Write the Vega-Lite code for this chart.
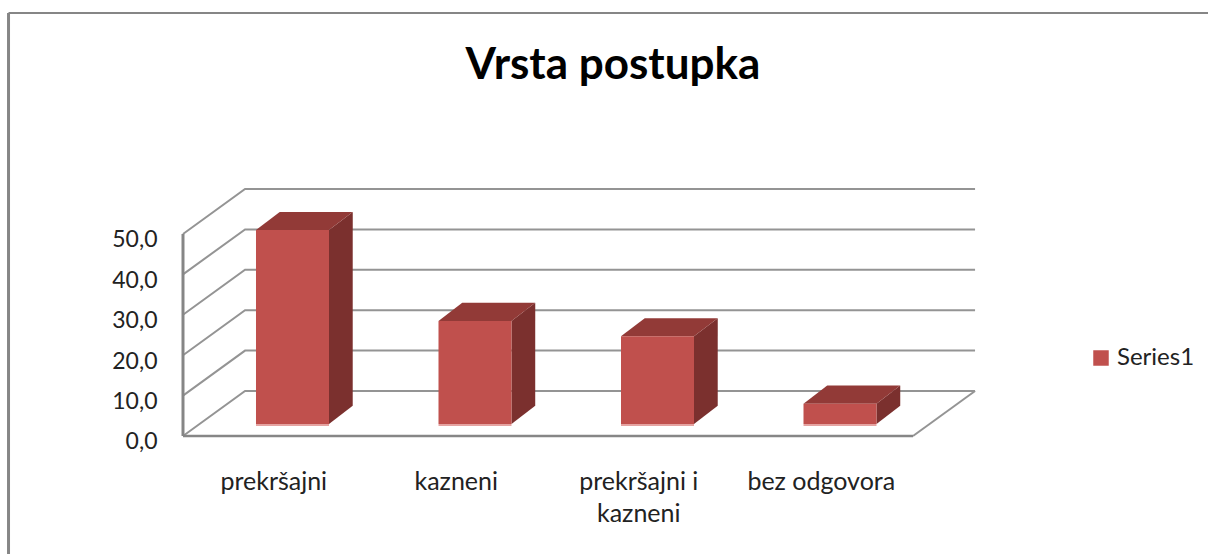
{"$schema":"https://vega.github.io/schema/vega-lite/v6.json","width":1208,"height":554,"padding":0,"autosize":{"type":"none"},"background":"white","config":{"view":{"stroke":null}},
"title":{"text":"Vrsta postupka","font":"Lato","fontSize":44,"fontWeight":"bold","color":"black","anchor":"middle","dx":9,"offset":-88},
"datasets":{
"bars":[{"category":"prekršajni","series":"Series1","x":0.4,"x2":0.8,"y":48},{"category":"kazneni","series":"Series1","x":1.4,"x2":1.8,"y":25.5},{"category":"prekršajni i kazneni","series":"Series1","x":2.4,"x2":2.8,"y":21.7},{"category":"bez odgovora","series":"Series1","x":3.4,"x2":3.8,"y":5}],
"sides":[{"bar":1,"x":0.8,"y":48,"y2":0},{"bar":1,"x":0.93,"y":52.5,"y2":4.5},{"bar":2,"x":1.8,"y":25.5,"y2":0},{"bar":2,"x":1.93,"y":30,"y2":4.5},{"bar":3,"x":2.8,"y":21.7,"y2":0},{"bar":3,"x":2.93,"y":26.2,"y2":4.5},{"bar":4,"x":3.8,"y":5,"y2":0},{"bar":4,"x":3.93,"y":9.5,"y2":4.5}],
"tops":[{"bar":1,"x":0.4,"y":48,"y2":48},{"bar":1,"x":0.53,"y":52.5,"y2":48},{"bar":1,"x":0.8,"y":52.5,"y2":48},{"bar":1,"x":0.93,"y":52.5,"y2":52.5},{"bar":2,"x":1.4,"y":25.5,"y2":25.5},{"bar":2,"x":1.53,"y":30,"y2":25.5},{"bar":2,"x":1.8,"y":30,"y2":25.5},{"bar":2,"x":1.93,"y":30,"y2":30},{"bar":3,"x":2.4,"y":21.7,"y2":21.7},{"bar":3,"x":2.53,"y":26.2,"y2":21.7},{"bar":3,"x":2.8,"y":26.2,"y2":21.7},{"bar":3,"x":2.93,"y":26.2,"y2":26.2},{"bar":4,"x":3.4,"y":5,"y2":5},{"bar":4,"x":3.53,"y":9.5,"y2":5},{"bar":4,"x":3.8,"y":9.5,"y2":5},{"bar":4,"x":3.93,"y":9.5,"y2":9.5}],
"grid":[{"id":0,"x":0,"y":0},{"id":0,"x":0.34,"y":11.14},{"id":0,"x":4.34,"y":11.14},{"id":10,"x":0,"y":10},{"id":10,"x":0.34,"y":21.14},{"id":10,"x":4.34,"y":21.14},{"id":20,"x":0,"y":20},{"id":20,"x":0.34,"y":31.14},{"id":20,"x":4.34,"y":31.14},{"id":30,"x":0,"y":30},{"id":30,"x":0.34,"y":41.14},{"id":30,"x":4.34,"y":41.14},{"id":40,"x":0,"y":40},{"id":40,"x":0.34,"y":51.14},{"id":40,"x":4.34,"y":51.14},{"id":50,"x":0,"y":50},{"id":50,"x":0.34,"y":61.14},{"id":50,"x":4.34,"y":61.14},{"id":60,"x":4,"y":0},{"id":60,"x":4.34,"y":11.14}],
"floor":[{"x":0,"y":0},{"x":4,"y":0}],
"wall":[{"x":0,"y":0},{"x":0,"y":50}],
"frameLeft":[{"x":-0.956,"y":-29.2},{"x":-0.956,"y":104.7}],
"frameTop":[{"x":-0.956,"y":104.7},{"x":5.6164,"y":104.7}]
},
"encoding":{
"x":{"field":"x","type":"quantitative","scale":{"domain":[-1.0027,5.6164],"nice":false,"zero":false},"axis":{"title":null,"grid":false,"domain":false,"ticks":false,"values":[0.5,1.5,2.5,3.5],"offset":-85,"labelPadding":0,"labelFont":"Lato","labelFontSize":25,"labelColor":"#222","labelLineHeight":32,"labelBaseline":"top","labelOffset":-1,"labelExpr":"datum.value==0.5?'prekršajni':datum.value==1.5?'kazneni':datum.value==2.5?['prekršajni i','kazneni']:'bez odgovora'"}},
"y":{"field":"y","type":"quantitative","scale":{"domain":[-29.21,107.92],"nice":false,"zero":false},"axis":{"title":null,"grid":false,"domain":false,"ticks":false,"values":[0,10,20,30,40,50],"offset":-157,"labelPadding":0,"labelFont":"Lato","labelFontSize":23,"labelColor":"#222","labelOffset":6,"labelExpr":"replace(format(datum.value,'.1f'),'.',',')"}}
},
"layer":[
{"data":{"name":"frameLeft"},"mark":{"type":"line","color":"#868686","strokeWidth":3}},
{"data":{"name":"frameTop"},"mark":{"type":"line","color":"#868686","strokeWidth":2}},
{"data":{"name":"grid"},"mark":{"type":"line","color":"#949494","strokeWidth":2},"encoding":{"detail":{"field":"id"}}},
{"data":{"name":"floor"},"mark":{"type":"line","color":"#868686","strokeWidth":2.5}},
{"data":{"name":"wall"},"mark":{"type":"line","color":"#868686","strokeWidth":3}},
{"data":{"name":"sides"},"mark":{"type":"area","color":"#7B302E","yOffset":-12,"y2Offset":-12},"encoding":{"y2":{"field":"y2"},"detail":{"field":"bar"}}},
{"data":{"name":"tops"},"mark":{"type":"area","color":"#923A37","yOffset":-12,"y2Offset":-12},"encoding":{"y2":{"field":"y2"},"detail":{"field":"bar"}}},
{"data":{"name":"bars"},"mark":{"type":"bar","yOffset":-12,"y2Offset":-12},"encoding":{"x2":{"field":"x2"},"y2":{"datum":0},"color":{"field":"series","type":"nominal","scale":{"domain":["Series1"],"range":["#C0504D"]},"legend":{"title":null,"orient":"none","legendX":1089,"legendY":346,"symbolType":"square","symbolSize":240,"symbolStrokeWidth":0,"labelFont":"Lato","labelFontSize":24,"labelColor":"#222","labelOffset":4}}}},
{"data":{"name":"bars"},"mark":{"type":"rule","color":"#E5A3A1","strokeWidth":2,"yOffset":-11,"y2Offset":-11},"encoding":{"x2":{"field":"x2"},"y":{"datum":0}}}
]}
